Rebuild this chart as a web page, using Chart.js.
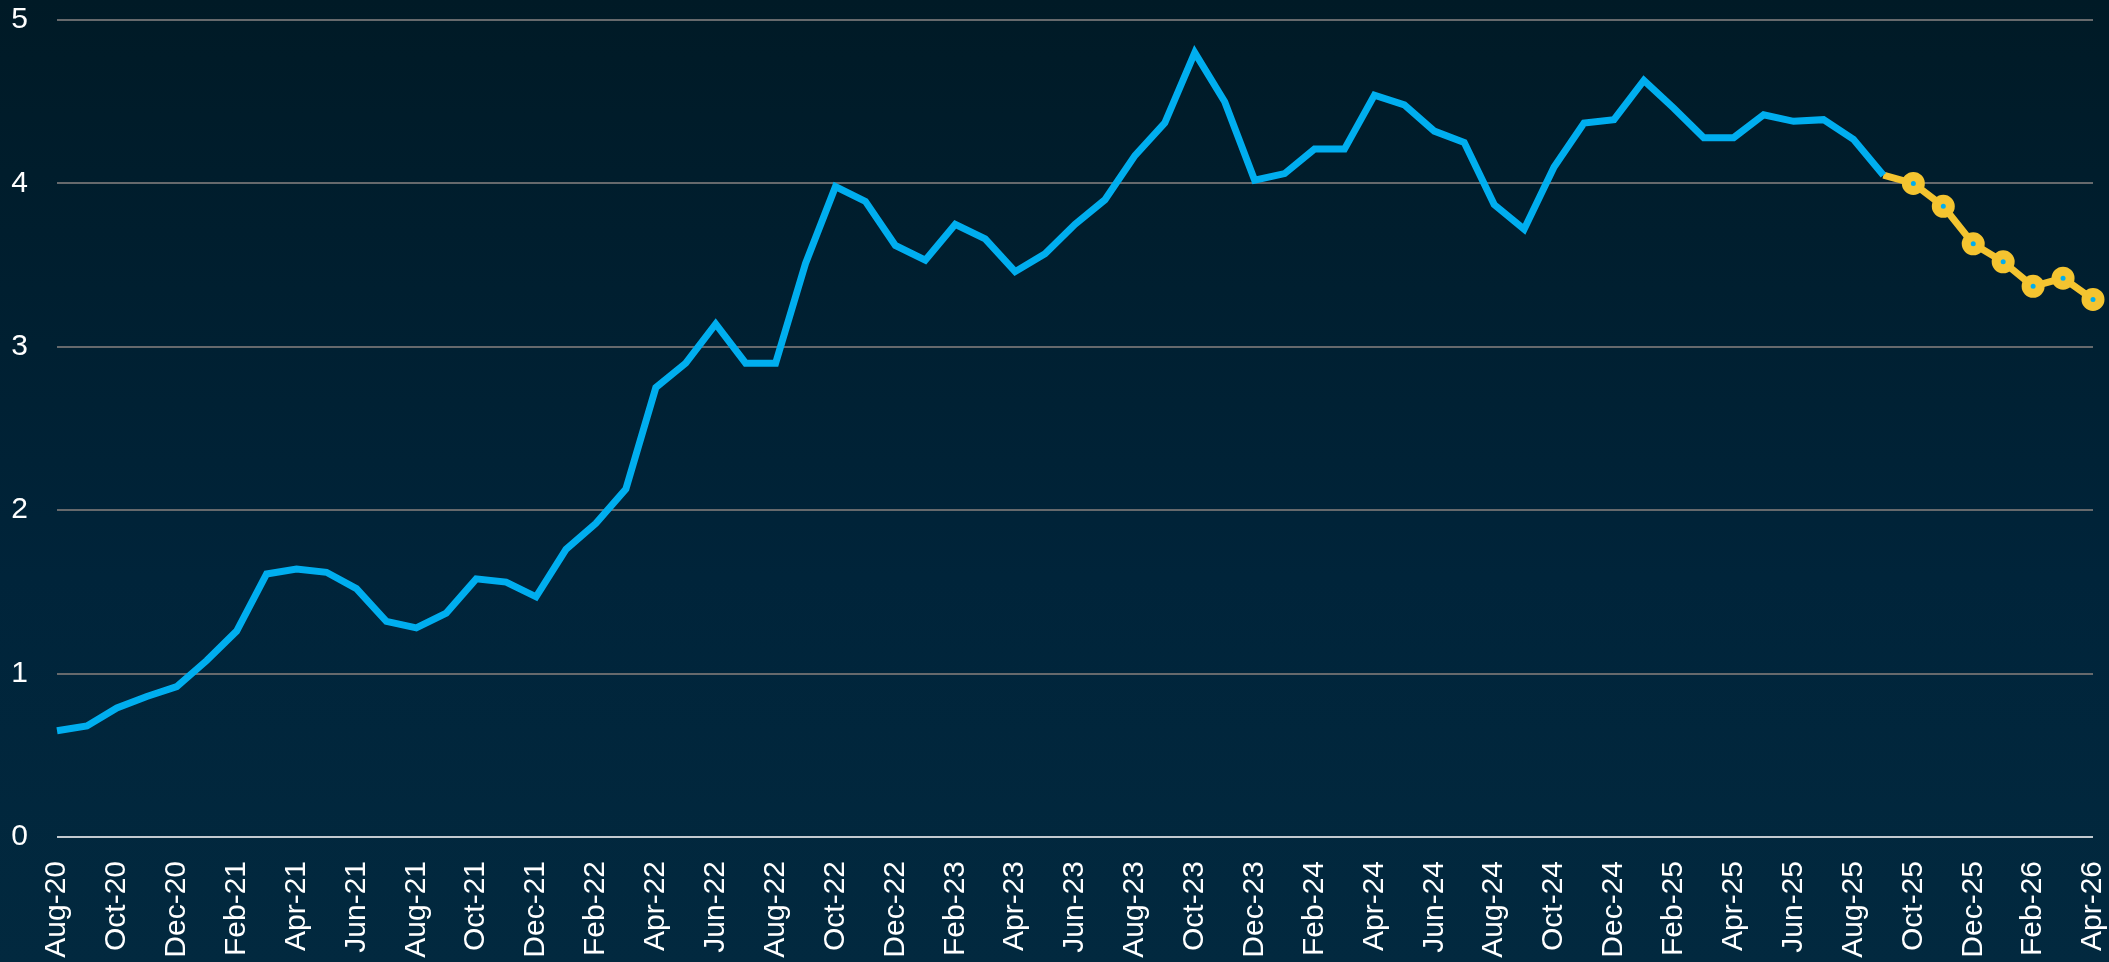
<!DOCTYPE html>
<html>
<head>
<meta charset="utf-8">
<script src="https://cdn.jsdelivr.net/npm/chart.js@4/dist/chart.umd.min.js"></script>
<style>
  html, body { margin: 0; padding: 0; }
  body {
    width: 2109px; height: 962px; overflow: hidden;
    background: linear-gradient(to bottom, #001a26 0%, #00243a 60%, #02293f 100%);
  }
  #wrap { position: relative; width: 2109px; height: 962px; }
</style>
</head>
<body>
<div id="wrap"><canvas id="chart"></canvas></div>
<script>
// Mois, Aug-20 -> Apr-26
const months = [
  'Aug-20','Sep-20','Oct-20','Nov-20','Dec-20',
  'Jan-21','Feb-21','Mar-21','Apr-21','May-21','Jun-21','Jul-21','Aug-21','Sep-21','Oct-21','Nov-21','Dec-21',
  'Jan-22','Feb-22','Mar-22','Apr-22','May-22','Jun-22','Jul-22','Aug-22','Sep-22','Oct-22','Nov-22','Dec-22',
  'Jan-23','Feb-23','Mar-23','Apr-23','May-23','Jun-23','Jul-23','Aug-23','Sep-23','Oct-23','Nov-23','Dec-23',
  'Jan-24','Feb-24','Mar-24','Apr-24','May-24','Jun-24','Jul-24','Aug-24','Sep-24','Oct-24','Nov-24','Dec-24',
  'Jan-25','Feb-25','Mar-25','Apr-25','May-25','Jun-25','Jul-25','Aug-25','Sep-25','Oct-25','Nov-25','Dec-25',
  'Jan-26','Feb-26','Mar-26','Apr-26'
];

// Valeurs observées (Aug-20 -> Sep-25)
const actual = [
  0.65, 0.68, 0.79, 0.86, 0.92,
  1.08, 1.26, 1.61, 1.64, 1.62, 1.52, 1.32, 1.28, 1.37, 1.58, 1.56, 1.47,
  1.76, 1.92, 2.13, 2.75, 2.90, 3.14, 2.90, 2.90, 3.51, 3.98, 3.89, 3.62,
  3.53, 3.75, 3.66, 3.46, 3.57, 3.75, 3.90, 4.17, 4.37, 4.80, 4.50, 4.02,
  4.06, 4.21, 4.21, 4.54, 4.48, 4.32, 4.25, 3.87, 3.72, 4.10, 4.37, 4.39,
  4.63, 4.46, 4.28, 4.28, 4.42, 4.38, 4.39, 4.27, 4.05
];

// Prévision (Sep-25 -> Apr-26)
const forecastStart = 61;
const forecast = [4.05, 4.00, 3.86, 3.63, 3.52, 3.37, 3.42, 3.29];

const yTicks = [0, 1, 2, 3, 4, 5];

const actualData = months.map((m, i) => i < actual.length ? actual[i] : null);
const forecastData = months.map((m, i) => i >= forecastStart ? forecast[i - forecastStart] : null);

const blue = '#00aeef';
const yellow = '#f4c430';
const labelFont = { family: 'Liberation Sans, Arial, sans-serif', size: 30 };

// on enlève le padding automatique des axes et on fixe leur taille
function noAxisPadding(axis) {
  axis.paddingTop = 0;
  axis.paddingBottom = 0;
  axis.paddingLeft = 0;
  axis.paddingRight = 0;
}

const ctx = document.getElementById('chart').getContext('2d');
const chart = new Chart(ctx, {
  type: 'line',
  data: {
    labels: months,
    datasets: [
      {
        label: 'Actual',
        data: actualData,
        borderColor: blue,
        borderWidth: 7,
        pointRadius: 0,
        tension: 0,
        borderJoinStyle: 'miter'
      },
      {
        label: 'Forecast',
        data: forecastData,
        borderColor: yellow,
        borderWidth: 7,
        borderJoinStyle: 'miter',
        pointRadius: (c) => (c.dataIndex > forecastStart ? 7 : 0),
        pointBorderWidth: 9,
        pointBorderColor: yellow,
        pointBackgroundColor: blue,
        tension: 0
      }
    ]
  },
  options: {
    responsive: true,
    maintainAspectRatio: false,
    animation: false,
    layout: { padding: { left: 0, right: 15, top: 20, bottom: 0 } },
    plugins: {
      legend: { display: false },
      tooltip: { enabled: false }
    },
    scales: {
      x: {
        offset: false,
        afterFit: (axis) => { noAxisPadding(axis); axis.height = 125; },
        grid: { display: false, drawTicks: false },
        border: { display: false },
        ticks: {
          autoSkip: false,
          maxRotation: 90,
          minRotation: 90,
          padding: 24,
          color: '#ffffff',
          font: labelFont,
          callback: function (v, i) { return i % 2 === 0 ? months[i] : ''; }
        }
      },
      y: {
        min: 0,
        max: 5,
        afterBuildTicks: (axis) => { axis.ticks = yTicks.map(v => ({ value: v })); },
        afterFit: (axis) => { noAxisPadding(axis); axis.width = 57; },
        grid: {
          drawTicks: false,
          lineWidth: 2,
          color: (c) => (c.tick && c.tick.value === 0 ? '#c3cad0' : '#66696c')
        },
        border: { display: false },
        ticks: {
          padding: 29,
          color: '#ffffff',
          font: labelFont
        }
      }
    }
  }
});
</script>
</body>
</html>
